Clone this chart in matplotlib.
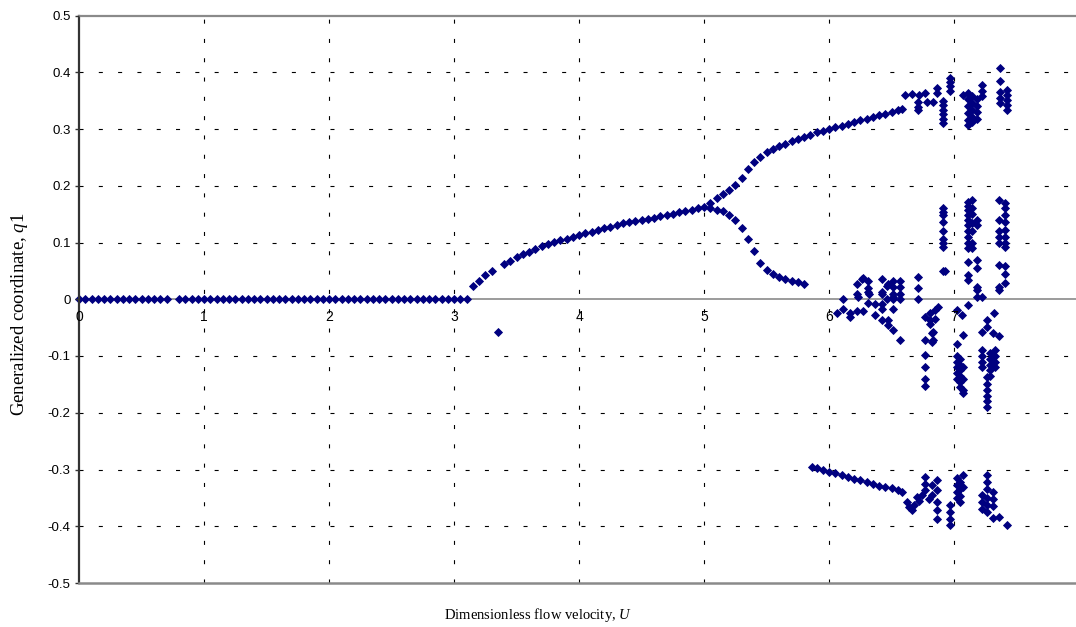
import matplotlib
matplotlib.use('Agg')
import matplotlib.pyplot as plt
from matplotlib.ticker import FixedLocator, FuncFormatter

plt.rcParams['font.family'] = 'Liberation Sans'
plt.rcParams['mathtext.fontset'] = 'custom'
plt.rcParams['mathtext.rm'] = 'Liberation Serif'
plt.rcParams['mathtext.it'] = 'Liberation Serif:italic'
plt.rcParams['lines.scale_dashes'] = False

NAVY = '#000080'
FRAME = '#8a8a8a'
AXIS = '#333333'

# --- data ----------------------------------------------------------------
# stable trivial branch, q1 = 0
zero_u = [0.0, 0.05, 0.1, 0.15, 0.2, 0.25, 0.3, 0.35, 0.4, 0.45, 0.5, 0.55,
          0.6, 0.65, 0.7,
          0.8, 0.85, 0.9, 0.95, 1.0, 1.05, 1.1, 1.15, 1.2, 1.25, 1.3, 1.35,
          1.4, 1.45, 1.5, 1.55, 1.6, 1.65, 1.7, 1.75, 1.8, 1.85, 1.9, 1.95,
          2.0, 2.05, 2.1, 2.15, 2.2, 2.25, 2.3, 2.35, 2.4, 2.45, 2.5, 2.55,
          2.6, 2.65, 2.7, 2.75, 2.8, 2.85, 2.9, 2.95, 3.0, 3.05, 3.1]
zero_q = [0.0] * len(zero_u)

# buckled branch after divergence
rise_u = [3.15, 3.2, 3.25, 3.3, 3.4, 3.45, 3.5, 3.55, 3.6, 3.65, 3.7, 3.75,
          3.8, 3.85, 3.9, 3.95, 4.0, 4.05, 4.1, 4.15, 4.2, 4.25, 4.3, 4.35,
          4.4, 4.45, 4.5, 4.55, 4.6, 4.65, 4.7, 4.75, 4.8, 4.85, 4.9, 4.95,
          5.0]
rise_q = [0.023, 0.033, 0.042, 0.049, 0.062, 0.068, 0.074, 0.079, 0.084,
          0.089, 0.093, 0.097, 0.101, 0.104, 0.107, 0.110, 0.113, 0.116,
          0.119, 0.122, 0.125, 0.128, 0.131, 0.134, 0.136, 0.138, 0.140,
          0.142, 0.144, 0.146, 0.148, 0.150, 0.153, 0.155, 0.158, 0.160,
          0.162]

# single negative point
neg_pt_u = [3.35]
neg_pt_q = [-0.057]

# upper branch after the split
upper_u = [5.05, 5.1, 5.15, 5.2, 5.25, 5.3, 5.35, 5.4, 5.45, 5.5, 5.55, 5.6,
           5.65, 5.7, 5.75, 5.8, 5.85, 5.9, 5.95, 6.0, 6.05, 6.1, 6.15, 6.2,
           6.25, 6.3, 6.35, 6.4, 6.45, 6.5, 6.55, 6.58]
upper_q = [0.170, 0.178, 0.185, 0.192, 0.201, 0.214, 0.229, 0.241, 0.251,
           0.259, 0.265, 0.270, 0.274, 0.278, 0.282, 0.286, 0.290, 0.294,
           0.297, 0.300, 0.303, 0.306, 0.309, 0.312, 0.315, 0.318, 0.321,
           0.324, 0.327, 0.330, 0.333, 0.336]

# decaying branch after the split
decay_u = [5.05, 5.1, 5.15, 5.2, 5.25, 5.3, 5.35, 5.4, 5.45, 5.5, 5.55, 5.6,
           5.65, 5.7, 5.75, 5.8]
decay_q = [0.161, 0.158, 0.155, 0.149, 0.140, 0.125, 0.107, 0.085, 0.064,
           0.052, 0.044, 0.039, 0.036, 0.033, 0.030, 0.027]

# lower (negative) branch
lower_u = [5.86, 5.9, 5.95, 6.0, 6.05, 6.1, 6.15, 6.2, 6.25, 6.3, 6.35, 6.4,
           6.45, 6.5, 6.55, 6.58]
lower_q = [-0.295, -0.298, -0.301, -0.304, -0.307, -0.310, -0.313, -0.316,
           -0.319, -0.322, -0.326, -0.329, -0.331, -0.333, -0.336, -0.340]

# scattered (chaotic) region, U > 6
chaos_u = [
    # top cloud
    6.61, 6.66, 6.72, 6.77, 6.71, 6.71, 6.71, 6.78, 6.83, 6.86, 6.86,
    6.91, 6.91, 6.91, 6.91, 6.91, 6.91, 6.97, 6.97, 6.97, 6.97, 7.07,
    7.11, 7.11, 7.11, 7.11, 7.11, 7.11, 7.14, 7.14, 7.14, 7.14, 7.14,
    7.18, 7.18, 7.18, 7.18, 7.22, 7.22, 7.22,
    7.37, 7.37, 7.37, 7.37, 7.37, 7.42, 7.42, 7.42, 7.42, 7.42,
    # bottom cloud
    6.62, 6.64, 6.66, 6.68, 6.70, 6.72, 6.74,
    6.77, 6.77, 6.77, 6.80, 6.82, 6.82,
    6.86, 6.86, 6.86, 6.86, 6.86,
    6.97, 6.97, 6.97, 6.97,
    7.02, 7.02, 7.02, 7.02, 7.05, 7.05, 7.05, 7.05, 7.07, 7.07,
    7.22, 7.22, 7.22, 7.26, 7.26, 7.26, 7.26, 7.26, 7.26,
    7.31, 7.31, 7.31, 7.31, 7.36, 7.42,
    # middle, positive columns
    6.91, 6.91, 6.91, 6.91, 6.91, 6.91, 6.91, 6.91, 6.91,
    7.11, 7.11, 7.11, 7.11, 7.11, 7.11, 7.11, 7.11, 7.11, 7.11, 7.11,
    7.11, 7.11,
    7.14, 7.14, 7.14, 7.14, 7.14, 7.14, 7.14,
    7.18, 7.18, 7.18, 7.18, 7.18, 7.18, 7.18,
    7.36, 7.36, 7.36, 7.36, 7.36, 7.36, 7.36, 7.36,
    7.41, 7.41, 7.41, 7.41, 7.41, 7.41, 7.41, 7.41, 7.41, 7.41, 7.41,
    # middle, around zero (6.0 - 6.9)
    6.06, 6.11, 6.11, 6.17, 6.17, 6.22, 6.27,
    6.22, 6.22, 6.23, 6.27, 6.31, 6.31, 6.32, 6.31,
    6.37, 6.42, 6.42, 6.37, 6.42, 6.47, 6.47, 6.51, 6.57,
    6.42, 6.42, 6.47, 6.51, 6.57, 6.57, 6.57, 6.51, 6.51, 6.51, 6.51,
    6.57, 6.46, 6.71, 6.71, 6.71, 6.26, 6.31, 6.42, 6.46, 6.51,
    6.77, 6.81, 6.85, 6.87, 6.81, 6.85, 6.81, 6.83, 6.77, 6.83, 6.77,
    6.82, 6.82, 6.77, 6.77, 6.77, 6.93,
    # middle, negative columns (7.0 - 7.4)
    7.02, 7.06, 7.11, 7.02, 7.07,
    7.02, 7.02, 7.02, 7.02, 7.02,
    7.05, 7.05, 7.05, 7.05, 7.05, 7.05,
    7.07, 7.07, 7.07, 7.07,
    7.22, 7.22, 7.26, 7.26, 7.32, 7.31, 7.36,
    7.22, 7.22, 7.22, 7.22,
    7.29, 7.29, 7.29, 7.29, 7.29,
    7.33, 7.33, 7.33, 7.33,
    7.26, 7.26, 7.26, 7.26, 7.26, 7.26,
]
chaos_q = [
    0.360, 0.362, 0.360, 0.364, 0.348, 0.339, 0.333, 0.348, 0.348, 0.372,
    0.363,
    0.350, 0.342, 0.334, 0.326, 0.318, 0.310, 0.390, 0.383, 0.375, 0.367,
    0.360,
    0.363, 0.352, 0.340, 0.328, 0.316, 0.307, 0.358, 0.346, 0.334, 0.322,
    0.312,
    0.352, 0.340, 0.330, 0.318, 0.377, 0.367, 0.358,
    0.407, 0.385, 0.365, 0.355, 0.345, 0.369, 0.360, 0.351, 0.343, 0.333,
    -0.358, -0.366, -0.372, -0.362, -0.348, -0.356, -0.345,
    -0.313, -0.325, -0.337, -0.352, -0.327, -0.345,
    -0.319, -0.337, -0.357, -0.372, -0.387,
    -0.363, -0.375, -0.387, -0.398,
    -0.315, -0.327, -0.339, -0.350, -0.322, -0.335, -0.347, -0.358, -0.310,
    -0.330,
    -0.345, -0.357, -0.370, -0.310, -0.322, -0.335, -0.350, -0.362, -0.375,
    -0.340, -0.352, -0.365, -0.386, -0.383, -0.397,
    0.160, 0.154, 0.148, 0.136, 0.121, 0.107, 0.100, 0.092, 0.049,
    0.172, 0.165, 0.157, 0.149, 0.140, 0.130, 0.120, 0.110, 0.100, 0.090,
    0.066, 0.042, 0.034,
    0.175, 0.160, 0.150, 0.135, 0.120, 0.100, 0.090,
    0.140, 0.130, 0.069, 0.055, 0.021, 0.016, 0.004,
    0.175, 0.140, 0.120, 0.110, 0.100, 0.060, 0.022, 0.016,
    0.170, 0.160, 0.148, 0.136, 0.122, 0.110, 0.100, 0.092, 0.058, 0.044,
    0.029,
    -0.024, 0.000, -0.017, -0.024, -0.032, -0.021, -0.021,
    0.026, 0.010, 0.004, 0.038, 0.032, 0.019, 0.010, -0.006,
    -0.009, -0.009, -0.017, -0.028, -0.037, -0.037, -0.046, -0.055, -0.072,
    0.035, 0.010, 0.026, 0.032, 0.032, 0.022, 0.010, 0.022, 0.010, 0.001,
    -0.018,
    0.001, 0.001, 0.039, 0.019, 0.000, 0.036, 0.013, 0.013, 0.024, 0.004,
    -0.031, -0.025, -0.019, -0.014, -0.037, -0.034, -0.043, -0.058, -0.072,
    -0.072, -0.099,
    -0.060, -0.075, -0.119, -0.140, -0.152, 0.050,
    -0.019, -0.028, -0.011, -0.078, -0.063,
    -0.100, -0.110, -0.120, -0.130, -0.140,
    -0.105, -0.115, -0.125, -0.135, -0.145, -0.155,
    -0.120, -0.140, -0.160, -0.166,
    0.004, -0.058, -0.037, -0.049, -0.025, -0.060, -0.065,
    -0.090, -0.100, -0.110, -0.120,
    -0.095, -0.105, -0.115, -0.125, -0.135,
    -0.090, -0.100, -0.110, -0.120,
    -0.137, -0.150, -0.160, -0.170, -0.180, -0.190,
]

y_ticks = [-0.5, -0.4, -0.3, -0.2, -0.1, 0.0, 0.1, 0.2, 0.3, 0.4, 0.5]
x_ticks = [0, 1, 2, 3, 4, 5, 6, 7]

# --- figure -----------------------------------------------------------------
fig = plt.figure(figsize=(10.76, 6.27), dpi=100, facecolor='white')
ax = fig.add_axes([79 / 1076, 44 / 627, 1000 / 1076, 567.5 / 627])
ax.set_xlim(0, 8)
ax.set_ylim(-0.5, 0.5)

# dashed grid behind the markers (drawn by hand so tick labels can sit on top)
grid_kw = dict(color='black', lw=0.8, ls=(0, (2.9, 11.0)), zorder=1)
for yt in y_ticks[1:-1]:
    if yt != 0.0:
        ax.axhline(yt, **grid_kw)
for xt in x_ticks[1:]:
    ax.axvline(xt, **grid_kw)

mk = dict(ls='none', marker='D', ms=4.1, color=NAVY, mec=NAVY, mew=0.6,
          zorder=2, clip_on=False)
for u, q in [(zero_u, zero_q), (rise_u, rise_q), (neg_pt_u, neg_pt_q),
             (upper_u, upper_q), (decay_u, decay_q), (lower_u, lower_q),
             (chaos_u, chaos_q)]:
    ax.plot(u, q, **mk)

# axes frame in the old spreadsheet style
ax.set_axisbelow(False)
ax.spines['right'].set_visible(False)
ax.spines['top'].set_color(FRAME)
ax.spines['top'].set_linewidth(1.6)
ax.spines['left'].set_color(AXIS)
ax.spines['left'].set_linewidth(1.6)
ax.spines['bottom'].set_position(('data', 0))
ax.spines['bottom'].set_color(FRAME)
ax.spines['bottom'].set_linewidth(1.2)
ax.spines['bottom'].set_zorder(1.5)
ax.axhline(-0.5, color=FRAME, lw=1.8, clip_on=False, zorder=3)

ax.yaxis.set_major_locator(FixedLocator(y_ticks))
ax.yaxis.set_major_formatter(
    FuncFormatter(lambda v, _: '0' if abs(v) < 1e-9 else f'{v:.1f}'))
ax.tick_params(axis='y', direction='out', length=3, width=1.0,
               color=AXIS, labelsize=9.5, pad=3)
ax.xaxis.set_major_locator(FixedLocator(x_ticks))
ax.xaxis.set_major_formatter(FuncFormatter(lambda v, _: f'{v:.0f}'))
ax.tick_params(axis='x', length=0, labelsize=10, pad=8)

fig.text(538 / 1076, 1 - 615 / 627, r'Dimensionless flow velocity, $\mathit{U}$',
         ha='center', va='center', fontsize=10.5, family='Liberation Serif')
fig.text(20 / 1076, 1 - 314 / 627, r'Generalized coordinate, $\mathit{q1}$',
         ha='center', va='center', rotation=90, fontsize=13.5,
         family='Liberation Serif')

fig.savefig('out.png', dpi=100, facecolor='white')
